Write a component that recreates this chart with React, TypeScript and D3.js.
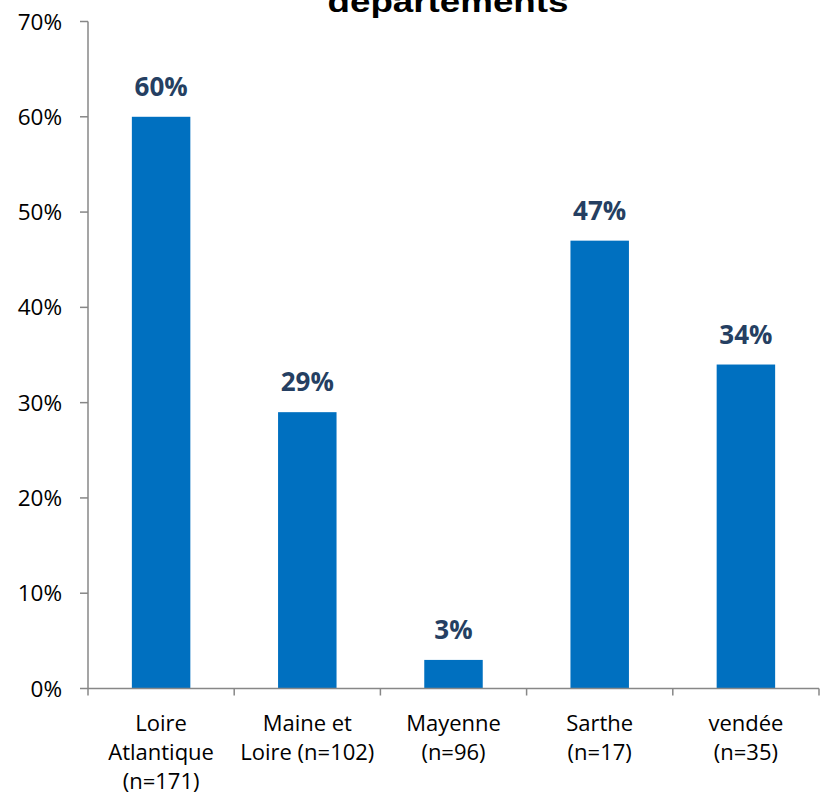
import React from "react";
import * as d3 from "d3";

const categories = ["Loire Atlantique", "Maine et Loire", "Mayenne", "Sarthe", "vendée"];
const categoryLines = [
  ["Loire", "Atlantique", "(n=171)"],
  ["Maine et", "Loire (n=102)"],
  ["Mayenne", "(n=96)"],
  ["Sarthe", "(n=17)"],
  ["vendée", "(n=35)"],
];
const values = [0.6, 0.29, 0.03, 0.47, 0.34];
const yTicks = [0, 0.1, 0.2, 0.3, 0.4, 0.5, 0.6, 0.7];
const titleText = "départements";

const W = 823;
const H = 801;
const left = 88;
const right = 819;
const top = 21.5;
const bottom = 688.5;

export default function App() {
  const x = d3.scaleBand<string>().domain(categories).range([left, right]).paddingInner(0.6).paddingOuter(0.3);
  const xb = d3.scaleBand<string>().domain(categories).range([left, right]);
  const y = d3.scaleLinear().domain([0, 0.7]).range([bottom, top]);
  const fmt = d3.format(".0%");
  const axisColor = "#878787";
  const font = "'Open Sans', 'Noto Sans', sans-serif";

  return (
    <svg width={W} height={H} style={{ position: "absolute", left: 0, top: 0, background: "#fff" }}>
      <text x={448} y={12} textAnchor="middle" fontFamily="'Liberation Sans', Arial, sans-serif" fontWeight="bold" fontSize={30} textLength={241} lengthAdjust="spacingAndGlyphs" fill="#000">
        {titleText}
      </text>
      {categories.map((c, i) => (
        <rect key={c} x={x(c)} y={y(values[i])} width={x.bandwidth()} height={bottom - y(values[i])} fill="#0070C0" />
      ))}
      {/* y axis */}
      <line x1={left} x2={left} y1={top} y2={bottom + 7} stroke={axisColor} strokeWidth={1.5} />
      {yTicks.map((t) => (
        <g key={t}>
          <line x1={left - 8} x2={left} y1={y(t)} y2={y(t)} stroke={axisColor} strokeWidth={1.5} />
          <text x={62} y={y(t) + 8} textAnchor="end" fontFamily={font} fontSize={22.5} fill="#000">
            {fmt(t)}
          </text>
        </g>
      ))}
      {/* x axis */}
      <line x1={left} x2={right} y1={bottom} y2={bottom} stroke={axisColor} strokeWidth={1.5} />
      {categories.map((c) => (
        <line key={c} x1={(xb(c) as number) + xb.bandwidth()} x2={(xb(c) as number) + xb.bandwidth()} y1={bottom} y2={bottom + 7} stroke={axisColor} strokeWidth={1.5} />
      ))}
      {categories.map((c, i) => (
        <text key={c} textAnchor="middle" fontFamily={font} fontSize={22} fill="#000">
          {categoryLines[i].map((l, j) => (
            <tspan key={j} x={(xb(c) as number) + xb.bandwidth() / 2} y={731 + j * 29}>
              {l}
            </tspan>
          ))}
        </text>
      ))}
      {categories.map((c, i) => (
        <text key={c} x={(x(c) as number) + x.bandwidth() / 2} y={y(values[i]) - 21} textAnchor="middle" fontFamily={font} fontWeight="bold" fontSize={26} fill="#253F62">
          {fmt(values[i])}
        </text>
      ))}
    </svg>
  );
}
